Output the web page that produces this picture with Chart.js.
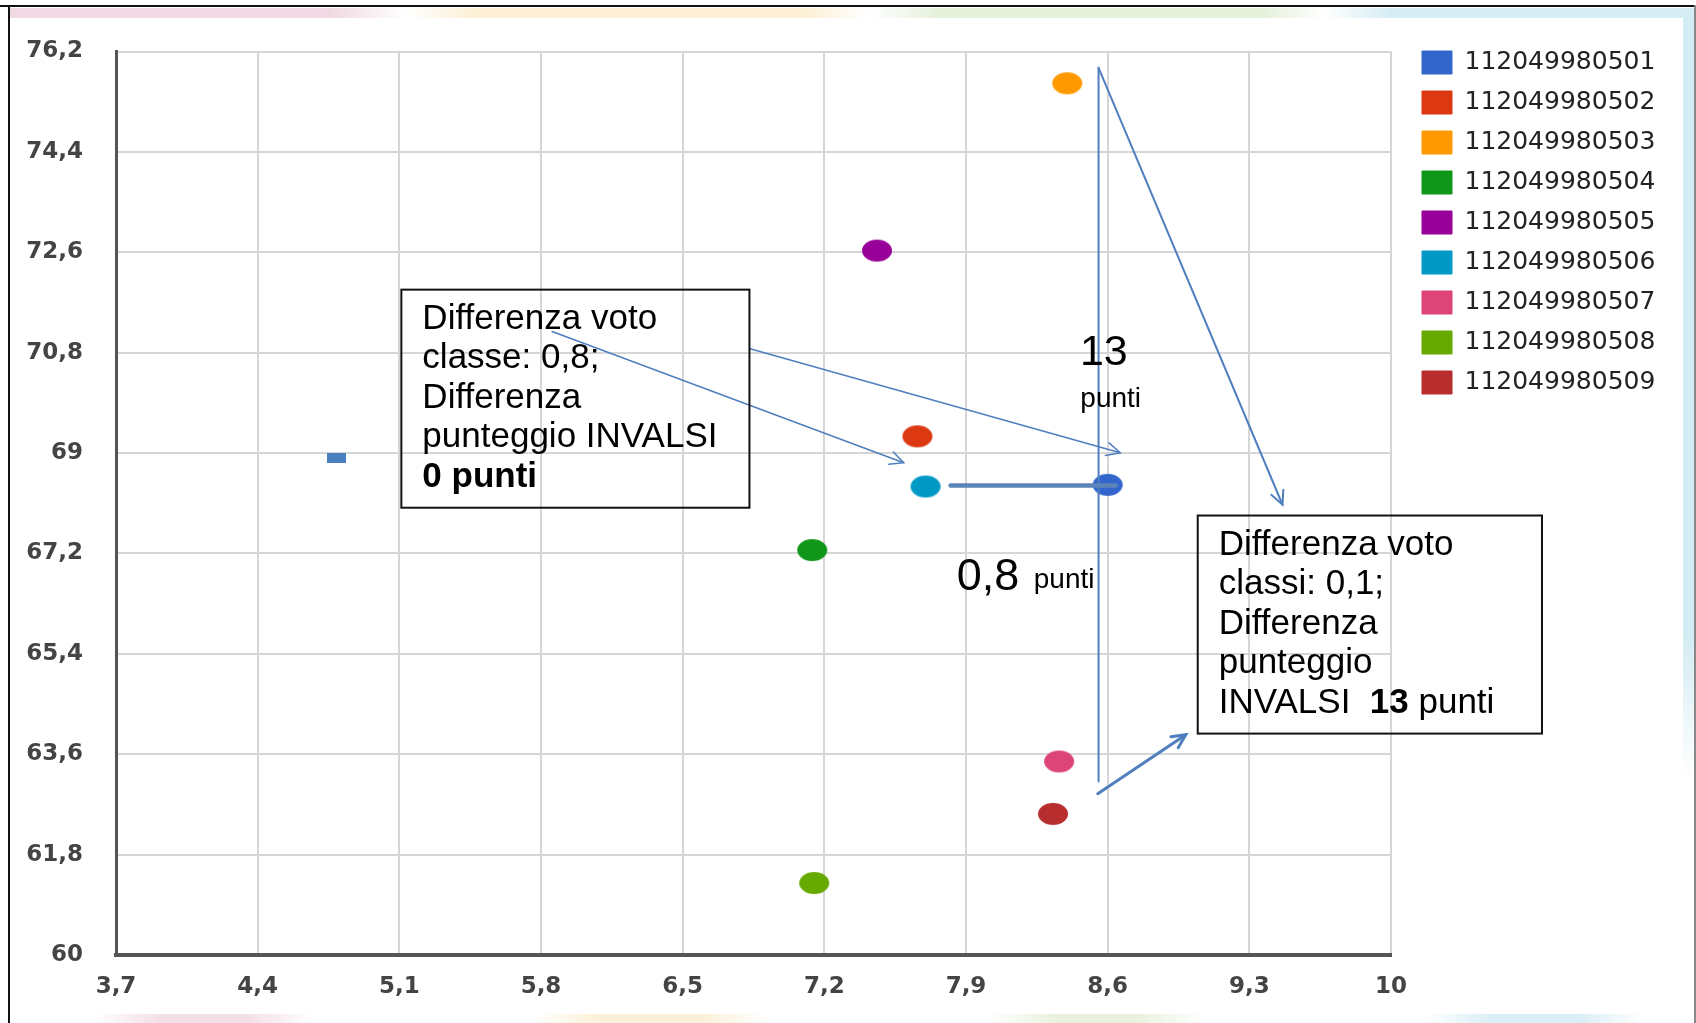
<!DOCTYPE html>
<html lang="it">
<head>
    <meta charset="UTF-8">
    <title>Voto classe e punteggio INVALSI</title>
    <script src="https://cdn.jsdelivr.net/npm/chart.js"></script>
    <style>
        html, body {
            margin: 0;
            padding: 0;
            background: #fff;
        }
        body {
            position: relative;
            width: 1696px;
            height: 1023px;
            overflow: hidden;
        }
        .chart-box {
            position: absolute;
            left: 0;
            top: 0;
            width: 1696px;
            height: 1023px;
        }
        /* cornice della slide */
        .frame-top {
            position: absolute; left: 0; top: 5px; width: 1696px; height: 2px; background: #111;
        }
        .frame-left {
            position: absolute; left: 8px; top: 5px; width: 2px; height: 1018px; background: #111;
        }
        .frame-right {
            position: absolute; right: 0; top: 5px; width: 2px; height: 1018px; background: #888;
        }
        .strip-top {
            position: absolute; left: 10px; top: 8px; width: 1684px; height: 10px;
            background: linear-gradient(to right, #f0d9e2 0%, #f0d9e2 19%, #fff 23.5%, #fcefd3 28%, #fcefd3 47%,
                #fff 51%, #e6f1dc 55%, #e6f1dc 74.5%, #fff 78%, #d6edf4 82%, #d6edf4 100%);
        }
        .strip-bottom {
            position: absolute; left: 10px; top: 1014px; width: 1684px; height: 9px;
            background: linear-gradient(to right, #fff 5%, #f3dfe6 9%, #f3dfe6 14%, #fff 18%, #fff 31%, #fcf1d8 35%,
                #fcf1d8 41%, #fff 45%, #fff 58%, #e8f2df 62%, #e8f2df 67%, #fff 71%, #fff 84%, #d9eef5 88%,
                #d9eef5 93%, #fff 97%);
        }
        .band-right {
            position: absolute; left: 1683px; top: 18px; width: 11px; height: 1000px;
            background: linear-gradient(to bottom, #d4ecf3 0%, #d4ecf3 62%, #fff 76%);
        }
    </style>
</head>
<body>
    <div class="band-right"></div>
    <div class="strip-top"></div>
    <div class="strip-bottom"></div>
    <div class="chart-box">
        <canvas id="invalsiChart"></canvas>
    </div>
    <div class="frame-top"></div>
    <div class="frame-left"></div>
    <div class="frame-right"></div>
    <script>
        // Dati: voto medio di classe (x) e punteggio INVALSI (y)
        const seriesCodes = ['112049980501', '112049980502', '112049980503', '112049980504', '112049980505',
            '112049980506', '112049980507', '112049980508', '112049980509'];
        const seriesColors = ['#3366cc', '#dc3912', '#ff9900', '#109618', '#990099',
            '#0099c6', '#dd4477', '#66aa00', '#b82e2e'];
        const votoClasse = [8.60, 7.66, 8.40, 7.14, 7.46, 7.70, 8.36, 7.15, 8.33];
        const punteggioInvalsi = [68.43, 69.30, 75.63, 67.26, 72.63, 68.40, 63.47, 61.29, 62.53];
        // piccolo marker rettangolare della serie 501
        const extra501X = [4.79];
        const extra501Y = [68.92];

        const xTickValues = [3.7, 4.4, 5.1, 5.8, 6.5, 7.2, 7.9, 8.6, 9.3, 10];
        const xTickLabels = ['3,7', '4,4', '5,1', '5,8', '6,5', '7,2', '7,9', '8,6', '9,3', '10'];
        const yTickValues = [60, 61.8, 63.6, 65.4, 67.2, 69, 70.8, 72.6, 74.4, 76.2];
        const yTickLabels = ['60', '61,8', '63,6', '65,4', '67,2', '69', '70,8', '72,6', '74,4', '76,2'];

        // Note disegnate sopra il grafico (coordinate nei valori degli assi)
        const noteBoxes = [
            { x1: 5.11, y1: 71.93, x2: 6.83, y2: 68.02, lines: [
                [['Differenza voto', false]],
                [['classe: 0,8;', false]],
                [['Differenza', false]],
                [['punteggio INVALSI', false]],
                [['0 punti', true]]
            ]},
            { x1: 9.045, y1: 67.88, x2: 10.746, y2: 63.97, lines: [
                [['Differenza voto', false]],
                [['classi: 0,1;', false]],
                [['Differenza', false]],
                [['punteggio', false]],
                [['INVALSI  ', false], ['13', true], [' punti', false]]
            ]}
        ];
        const noteArrows = [
            { from: [5.855, 71.18], to: [7.592, 68.826], width: 1.5 },
            { from: [6.833, 70.87], to: [8.662, 69.005], width: 1.5 },
            { from: [8.555, 75.908], to: [9.464, 68.073], width: 2 },
            { from: [8.551, 62.892], to: [8.986, 63.95], width: 3 }
        ];
        const noteLines = [
            { from: [8.555, 75.908], to: [8.555, 63.113], width: 2, color: '#4f7fbf' },
            { from: [7.824, 68.419], to: [8.64, 68.419], width: 4.5, color: '#5b84b8' }
        ];
        const noteLabels = [
            { text: '13', x: 8.581, y: 70.583, size: 43, align: 'center' },
            { text: 'punti', x: 8.615, y: 69.83, size: 28, align: 'center' },
            { text: '0,8', x: 7.854, y: 66.549, size: 45, align: 'left' },
            { text: 'punti', x: 8.235, y: 66.585, size: 28, align: 'left' }
        ];

        function ellipseSprite(color, w, h) {
            const c = document.createElement('canvas');
            c.width = w;
            c.height = h;
            const g = c.getContext('2d');
            g.fillStyle = color;
            g.beginPath();
            g.ellipse(w / 2, h / 2, w / 2 - 1, h / 2 - 1, 0, 0, Math.PI * 2);
            g.fill();
            return c;
        }

        function rectSprite(color, w, h) {
            const c = document.createElement('canvas');
            c.width = w;
            c.height = h;
            const g = c.getContext('2d');
            g.fillStyle = color;
            g.fillRect(0, 0, w, h);
            return c;
        }

        const datasets = seriesCodes.map((code, i) => {
            const pts = [{ x: votoClasse[i], y: punteggioInvalsi[i] }];
            const styles = [ellipseSprite(seriesColors[i], 32, 24)];
            if (i === 0) {
                extra501X.forEach((x, k) => {
                    pts.push({ x: x, y: extra501Y[k] });
                    styles.push(rectSprite('#4a7fc1', 19, 10));
                });
            }
            return {
                label: code,
                data: pts,
                backgroundColor: seriesColors[i],
                borderColor: seriesColors[i],
                pointStyle: styles,
                pointRadius: 12,
                pointHoverRadius: 12
            };
        });

        // larghezza della legenda per allineare i quadratini a x = 1422
        const legendFont = { family: 'DejaVu Sans', size: 25 };
        const legendPad = 15;
        const meas = document.createElement('canvas').getContext('2d');
        meas.font = legendFont.size + 'px ' + legendFont.family;
        const legendTextW = Math.max(...seriesCodes.map(s => meas.measureText(s).width));
        const legendW = legendPad + 30 + legendFont.size / 2 + legendTextW + 10;
        const padRight = Math.max(0, 1696 - (1422 - legendPad) - legendW);

        function drawArrowHead(ctx, x1, y1, x2, y2) {
            const a = Math.atan2(y2 - y1, x2 - x1);
            const len = 15, spread = 0.45;
            ctx.beginPath();
            ctx.moveTo(x2 - len * Math.cos(a - spread), y2 - len * Math.sin(a - spread));
            ctx.lineTo(x2, y2);
            ctx.lineTo(x2 - len * Math.cos(a + spread), y2 - len * Math.sin(a + spread));
            ctx.stroke();
        }

        const overlayPlugin = {
            id: 'overlay',
            afterDraw(chart) {
                const ctx = chart.ctx;
                const sx = chart.scales.x, sy = chart.scales.y;
                const px = v => sx.getPixelForValue(v);
                const py = v => sy.getPixelForValue(v);
                ctx.save();
                ctx.lineCap = 'round';

                noteLines.forEach(l => {
                    ctx.strokeStyle = l.color;
                    ctx.lineWidth = l.width;
                    ctx.beginPath();
                    ctx.moveTo(px(l.from[0]), py(l.from[1]));
                    ctx.lineTo(px(l.to[0]), py(l.to[1]));
                    ctx.stroke();
                });

                ctx.strokeStyle = '#4f7fbf';
                noteArrows.forEach(a => {
                    const x1 = px(a.from[0]), y1 = py(a.from[1]);
                    const x2 = px(a.to[0]), y2 = py(a.to[1]);
                    ctx.lineWidth = a.width;
                    ctx.beginPath();
                    ctx.moveTo(x1, y1);
                    ctx.lineTo(x2, y2);
                    ctx.stroke();
                    drawArrowHead(ctx, x1, y1, x2, y2);
                });

                noteBoxes.forEach(b => {
                    const left = px(b.x1), top = py(b.y1);
                    const w = px(b.x2) - left, h = py(b.y2) - top;
                    ctx.strokeStyle = '#111';
                    ctx.lineWidth = 2;
                    ctx.strokeRect(left, top, w, h);
                    ctx.fillStyle = '#000';
                    ctx.textBaseline = 'alphabetic';
                    ctx.textAlign = 'left';
                    b.lines.forEach((parts, li) => {
                        let cx = left + 21;
                        const base = top + 39 + li * 39.5;
                        parts.forEach(([t, bold]) => {
                            ctx.font = (bold ? 'bold ' : '') + '35px "Liberation Sans", Arial, sans-serif';
                            ctx.fillText(t, cx, base);
                            cx += ctx.measureText(t).width;
                        });
                    });
                });

                ctx.fillStyle = '#000';
                ctx.textBaseline = 'alphabetic';
                noteLabels.forEach(l => {
                    ctx.font = l.size + 'px "Liberation Sans", Arial, sans-serif';
                    ctx.textAlign = l.align;
                    ctx.fillText(l.text, px(l.x), py(l.y));
                });
                ctx.restore();
            }
        };

        const tickFont = { family: 'DejaVu Sans', size: 23, weight: 'bold' };

        new Chart(document.getElementById('invalsiChart'), {
            type: 'scatter',
            data: { datasets: datasets },
            options: {
                responsive: true,
                maintainAspectRatio: false,
                animation: false,
                layout: { padding: { top: 35, right: padRight, bottom: 0, left: 0 } },
                plugins: {
                    tooltip: { enabled: false },
                    legend: {
                        position: 'right',
                        align: 'start',
                        labels: {
                            boxWidth: 30,
                            boxHeight: 23,
                            padding: legendPad,
                            color: '#222',
                            font: legendFont
                        }
                    }
                },
                scales: {
                    x: {
                        type: 'linear',
                        position: 'bottom',
                        min: 3.7,
                        max: 10,
                        afterBuildTicks: s => { s.ticks = xTickValues.map(v => ({ value: v })); },
                        afterFit: s => { s.height = 68; },
                        ticks: {
                            callback: (v, i) => xTickLabels[i],
                            font: tickFont,
                            color: '#444',
                            padding: 18,
                            maxRotation: 0,
                            autoSkip: false
                        },
                        grid: { color: '#d6d6d6', lineWidth: 2, drawTicks: false },
                        border: { color: '#555', width: 4 }
                    },
                    y: {
                        type: 'linear',
                        position: 'left',
                        min: 60,
                        max: 76.2,
                        afterBuildTicks: s => { s.ticks = yTickValues.map(v => ({ value: v })); },
                        afterFit: s => { s.width = 116; },
                        ticks: {
                            callback: (v, i) => yTickLabels[i],
                            font: Object.assign({ lineHeight: '37px' }, tickFont),
                            color: '#444',
                            padding: 33,
                            autoSkip: false
                        },
                        grid: { color: '#d6d6d6', lineWidth: 2, drawTicks: false },
                        border: { color: '#555', width: 3 }
                    },
                    gap: {
                        type: 'linear',
                        position: 'right',
                        afterFit: s => { s.width = 16; },
                        ticks: { display: false },
                        grid: { display: false },
                        border: { display: false }
                    }
                }
            },
            plugins: [overlayPlugin]
        });
    </script>
</body>
</html>
